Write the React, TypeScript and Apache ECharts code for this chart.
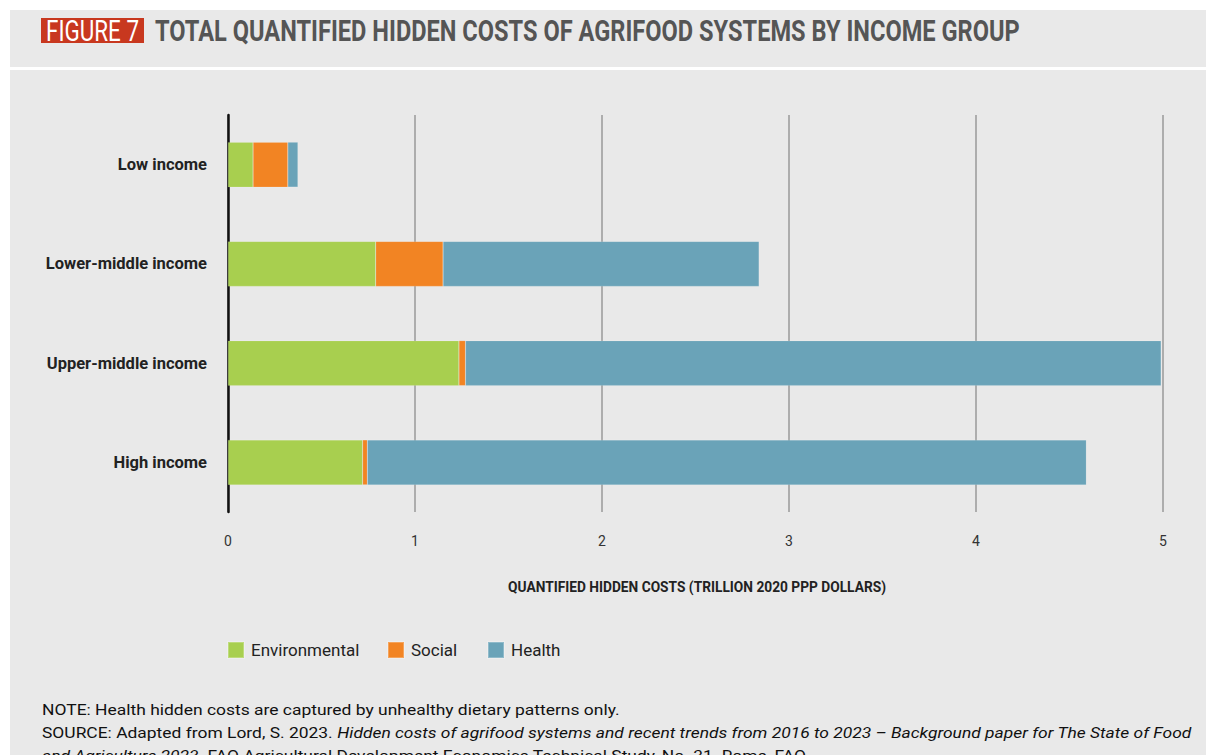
import React, { useEffect, useRef } from "react";
import * as echarts from "echarts";

const categories = ["Low income", "Lower-middle income", "Upper-middle income", "High income"];
const environmental = [0.134, 0.79, 1.235, 0.72];
const social = [0.186, 0.36, 0.035, 0.025];
const health = [0.054, 1.69, 3.72, 3.845];
const xTicks = [0, 1, 2, 3, 4, 5];
const seriesNames = ["Environmental", "Social", "Health"];
const colors = ["#a8cf4f", "#f28423", "#6aa3b8"];

const titleText = "TOTAL QUANTIFIED HIDDEN COSTS OF AGRIFOOD SYSTEMS BY INCOME GROUP";
const figureLabel = "FIGURE 7";
const axisTitle = "QUANTIFIED HIDDEN COSTS (TRILLION 2020 PPP DOLLARS)";
const noteText = "NOTE: Health hidden costs are captured by unhealthy dietary patterns only.";
const source1 = "SOURCE: Adapted from Lord, S. 2023. ";
const source1i = "Hidden costs of agrifood systems and recent trends from 2016 to 2023 – Background paper for The State of Food";
const source2i = "and Agriculture 2023";
const source2 = ". FAO Agricultural Development Economics Technical Study, No. 31. Rome, FAO.";

const FONT = "Roboto, 'Noto Sans', sans-serif";

function measure(text: string, font: string): number {
  const c = document.createElement("canvas");
  const ctx = c.getContext("2d");
  if (!ctx) return text.length * 8;
  ctx.font = font;
  return ctx.measureText(text).width;
}

export default function App() {
  const ref = useRef<HTMLDivElement>(null);
  useEffect(() => {
    if (!ref.current) return;
    const chart = echarts.init(ref.current, null, { renderer: "svg" });
    const data = [environmental, social, health];

    const titleFont = `bold 29px ${FONT}`;
    const figFont = `29px ${FONT}`;
    const axisFont = `bold 15px ${FONT}`;
    const noteFont = `15.5px ${FONT}`;
    const noteFontI = `italic 15.5px ${FONT}`;

    const titleScale = 865 / measure(titleText, titleFont);
    const figScale = 93 / measure(figureLabel, figFont);
    const axisScale = 378 / measure(axisTitle, axisFont);
    const noteScale = 578 / measure(noteText, noteFont);
    const src1W = measure(source1, noteFont) + measure(source1i, noteFontI);
    const srcScale = 1150 / src1W;

    const legendCommon = {
      top: 641,
      padding: 0,
      itemWidth: 16,
      itemHeight: 16,
      icon: "rect",
      textStyle: { fontFamily: FONT, fontSize: 17, color: "#222", padding: [1, 0, 0, 2] },
    };

    chart.setOption({
      animation: false,
      backgroundColor: "#ffffff",
      grid: { left: 228, right: 43, top: 115, bottom: 243, containLabel: false },
      legend: [
        { ...legendCommon, data: [seriesNames[0]], left: 227 },
        { ...legendCommon, data: [seriesNames[1]], left: 387 },
        { ...legendCommon, data: [seriesNames[2]], left: 487 },
      ],
      xAxis: {
        type: "value",
        min: 0,
        max: 5,
        interval: 1,
        axisLine: { show: false },
        axisTick: { show: false },
        axisLabel: {
          margin: 22,
          fontFamily: FONT,
          fontSize: 14,
          color: "#333",
          formatter: (v: number) => (xTicks.includes(v) ? String(v) : ""),
        },
        splitLine: { show: true, lineStyle: { color: "#999", width: 1.5 } },
      },
      yAxis: {
        type: "category",
        data: categories,
        inverse: true,
        axisLine: { show: true, lineStyle: { color: "#111", width: 2.5 } },
        axisTick: { show: false },
        axisLabel: { margin: 21, fontFamily: FONT, fontSize: 16.5, fontWeight: "bold", color: "#222" },
      },
      series: seriesNames.map((name, i) => ({
        name,
        type: "bar",
        stack: "total",
        barWidth: 45,
        itemStyle: { color: colors[i], borderColor: "rgba(255,255,255,0.25)", borderWidth: 0.5 },
        data: data[i],
      })),
      graphic: [
        { type: "rect", z: -10, shape: { x: 10, y: 10, width: 1196, height: 57 }, style: { fill: "#e9e9e9" } },
        { type: "rect", z: -10, shape: { x: 10, y: 70, width: 1196, height: 685 }, style: { fill: "#e9e9e9" } },
        { type: "rect", shape: { x: 41, y: 18, width: 103, height: 25 }, style: { fill: "#c8381f" } },
        {
          type: "text",
          x: 92.5,
          y: 31,
          scaleX: figScale,
          style: { text: figureLabel, fill: "#ffffff", font: figFont, align: "center", verticalAlign: "middle" },
        },
        {
          type: "text",
          x: 155,
          y: 31,
          scaleX: titleScale,
          style: { text: titleText, fill: "#555555", font: titleFont, verticalAlign: "middle" },
        },
        {
          type: "text",
          x: 697,
          y: 587,
          scaleX: axisScale,
          style: { text: axisTitle, fill: "#222", font: axisFont, align: "center", verticalAlign: "middle" },
        },
        {
          type: "text",
          x: 42,
          y: 710,
          scaleX: noteScale,
          style: { text: noteText, fill: "#111", font: noteFont, verticalAlign: "middle" },
        },
        {
          type: "text",
          x: 42,
          y: 733,
          scaleX: srcScale,
          style: {
            text: `{n|${source1}}{i|${source1i}}`,
            verticalAlign: "middle",
            rich: {
              n: { fill: "#111", font: noteFont },
              i: { fill: "#111", font: noteFontI },
            },
          },
        },
        {
          type: "text",
          x: 42,
          y: 756,
          scaleX: srcScale,
          style: {
            text: `{i|${source2i}}{n|${source2}}`,
            verticalAlign: "middle",
            rich: {
              n: { fill: "#111", font: noteFont },
              i: { fill: "#111", font: noteFontI },
            },
          },
        },
      ],
    });
    return () => chart.dispose();
  }, []);
  return <div ref={ref} style={{ position: "fixed", left: 0, top: 0, width: 1206, height: 755 }} />;
}
